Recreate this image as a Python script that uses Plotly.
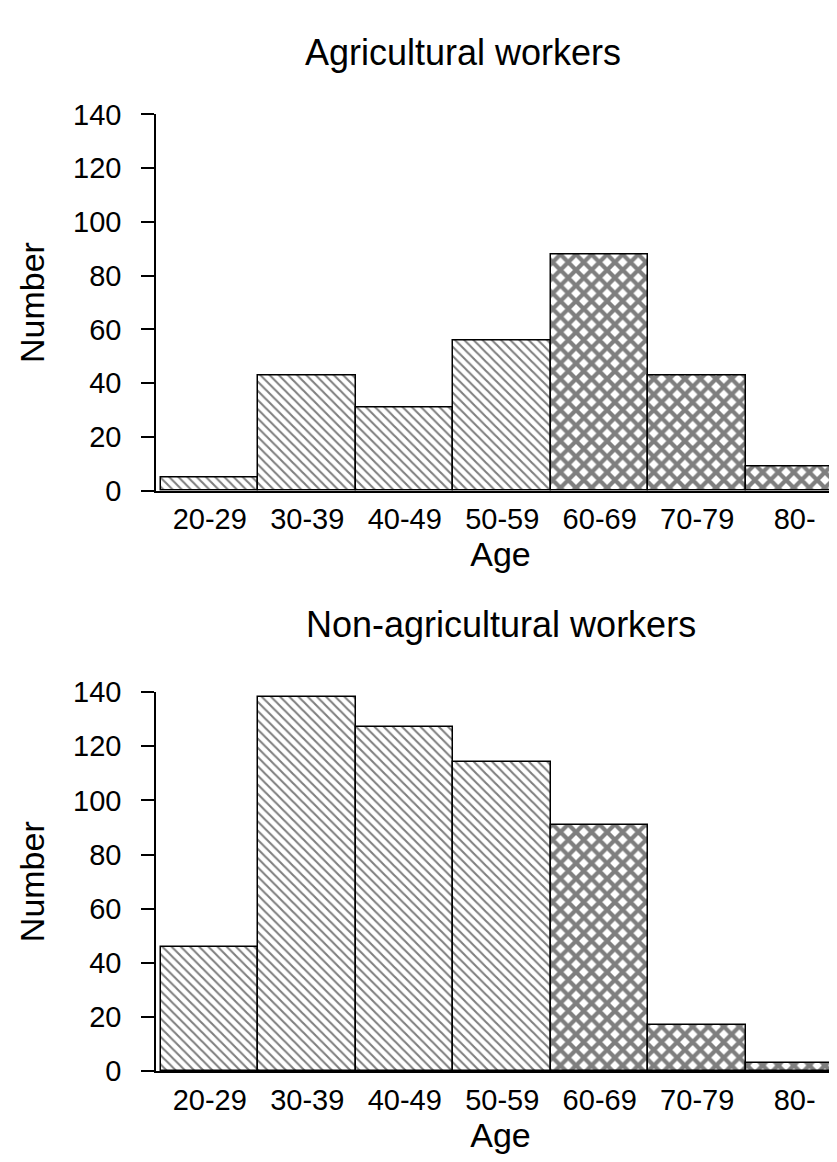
import plotly.graph_objects as go
from plotly.subplots import make_subplots

age_groups = ["20-29", "30-39", "40-49", "50-59", "60-69", "70-79", "80-"]
agricultural = [5, 43, 31, 56, 88, 43, 9]
non_agricultural = [46, 138, 127, 114, 91, 17, 3]
patterns = ["\\", "\\", "\\", "\\", "x", "x", "x"]
titles = ["Agricultural workers", "Non-agricultural workers"]
y_ticks = [0, 20, 40, 60, 80, 100, 120, 140]

W, H = 837, 1162
FONT = "Liberation Sans, Arial, Helvetica, sans-serif"

fig = make_subplots(rows=2, cols=1)

pos = list(range(len(age_groups)))
pat_size = [6.5 if p == "\\" else 11 for p in patterns]
pat_sol = [0.32 if p == "\\" else 0.62 for p in patterns]

for i, vals in enumerate([agricultural, non_agricultural]):
    fig.add_trace(go.Bar(
        x=pos, y=vals, width=1.0,
        marker=dict(color="white",
                    line=dict(color="black", width=1.5),
                    pattern=dict(shape=patterns, fgcolor="black", bgcolor="white",
                                 size=pat_size, solidity=pat_sol, fillmode="overlay")),
        showlegend=False, hoverinfo="skip"), row=i + 1, col=1)

def ydom(top_px, bot_px):
    return [1 - bot_px / H, 1 - top_px / H]

doms = [ydom(93, 480), ydom(687, 1077)]

for i in range(2):
    r = i + 1
    fig.update_yaxes(row=r, col=1, domain=doms[i], range=[0, 140],
                     tickvals=y_ticks, ticks="outside", ticklen=13, tickwidth=1.5,
                     tickcolor="black", showline=True, linecolor="black", linewidth=1.5,
                     showgrid=False, zeroline=False, ticklabelstandoff=14,
                     tickfont=dict(size=29, color="black", family=FONT),
                     title=dict(text="Number", font=dict(size=34, color="black", family=FONT),
                                standoff=18))
    fig.update_xaxes(row=r, col=1, range=[-0.551, 6.516], tickvals=pos, ticktext=age_groups,
                     ticks="", showline=True, linecolor="black", linewidth=1.5,
                     showgrid=False, zeroline=False, ticklabelstandoff=2,
                     tickfont=dict(size=29, color="black", family=FONT),
                     title=dict(text="Age", font=dict(size=34, color="black", family=FONT),
                                standoff=0))

fig.add_annotation(text=titles[0], xref="paper", yref="paper", x=(455 - 148) / (W - 148),
                   y=1 - 29 / H, yanchor="middle", xanchor="center",
                   showarrow=False, font=dict(size=36, color="black", family=FONT))
fig.add_annotation(text=titles[1], xref="paper", yref="paper", x=0.5,
                   y=1 - 617 / H, yanchor="middle", xanchor="center",
                   showarrow=False, font=dict(size=36, color="black", family=FONT))

fig.update_layout(width=W, height=H, margin=dict(l=148, r=0, t=0, b=0),
                  plot_bgcolor="white", paper_bgcolor="white", bargap=0)

fig.write_html("out.html")
